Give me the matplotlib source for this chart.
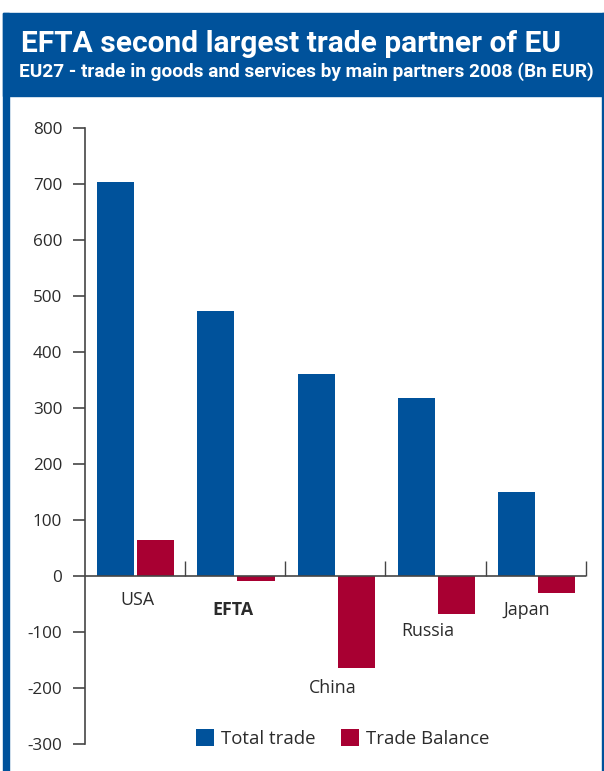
import matplotlib
matplotlib.use('Agg')
import matplotlib.pyplot as plt
import numpy as np
from matplotlib import font_manager
from matplotlib.patches import Rectangle

# ---------------- data ----------------
categories = ['USA', 'EFTA', 'China', 'Russia', 'Japan']
total_trade = [703, 473, 361, 318, 150]
trade_balance = [65, -9, -165, -68, -30]
series_names = ['Total trade', 'Trade Balance']
y_ticks = [-300, -200, -100, 0, 100, 200, 300, 400, 500, 600, 700, 800]
title = 'EFTA second largest trade partner of EU'
subtitle = 'EU27 - trade in goods and services by main partners 2008 (Bn EUR)'

# ---------------- style ----------------
BLUE = '#00529B'
RED = '#A80032'
AXC = '#454545'
TXT = '#2b2b2b'

FONT = 'Open Sans'
TFONT = 'Roboto'
plt.rcParams['font.family'] = [FONT, 'DejaVu Sans']

W, H = 604, 771
fig = plt.figure(figsize=(W / 100, H / 100), dpi=100)


def fx(px):
    return px / W


def fy(py):
    return 1 - py / H


def pt2px(pt):
    return pt * 100 / 72


# frame and header
fig.patches.append(Rectangle((fx(3), 0), fx(6), fy(12.7), transform=fig.transFigure,
                             color=BLUE, zorder=0))
fig.patches.append(Rectangle((fx(602.3), 0), fx(2), fy(12.7), transform=fig.transFigure,
                             color=BLUE, zorder=0))
fig.patches.append(Rectangle((fx(3), fy(95.5)), 1 - fx(3), fy(12.7) - fy(95.5),
                             transform=fig.transFigure, color=BLUE, zorder=0))

t1 = fig.text(fx(20.7), fy(52.3), title, color='white', fontweight='bold',
              fontsize=20, va='baseline', ha='left', family=[TFONT, 'DejaVu Sans'])
t2 = fig.text(fx(19.3), fy(76.7), subtitle, color='white', fontweight='bold',
              fontsize=12, va='baseline', ha='left', family=[TFONT, 'DejaVu Sans'])

fig.canvas.draw()
r = fig.canvas.get_renderer()
for t, target in ((t1, 537), (t2, 573)):
    w = t.get_window_extent(r).width
    t.set_fontsize(t.get_fontsize() * target / w)

# axes
ax = fig.add_axes([fx(84.5), fy(744), (586 - 84.5) / W, (744 - 128) / H])
ax.set_xlim(-0.5, 4.5)
ax.set_ylim(-300, 800)
x = np.arange(len(categories))
b1 = ax.bar(x - 0.19, total_trade, 0.37, color=BLUE, label=series_names[0], zorder=2)
b2 = ax.bar(x + 0.21, trade_balance, 0.37, color=RED, label=series_names[1], zorder=2)

for s in ('top', 'right', 'bottom'):
    ax.spines[s].set_visible(False)
ax.spines['left'].set_color(AXC)
ax.spines['left'].set_linewidth(1.2)
ax.set_xticks([])
ax.set_yticks(y_ticks)
ax.set_yticklabels([str(v) for v in y_ticks])
ax.tick_params(axis='y', direction='out', length=8.6, width=1.2, color=AXC,
               labelsize=12.3, labelcolor=TXT, pad=7.5)
ax.axhline(0, color=AXC, lw=1.2, zorder=3)
ax.vlines(x + 0.5, 0, 27, color=AXC, lw=1.0, clip_on=False, zorder=3)

label_pos = [(0.028, -52), (0.977, -70), (1.978, -209), (2.925, -107), (3.91, -70)]
for cat, (lx, ly) in zip(categories, label_pos):
    ax.text(lx, ly, cat, ha='center', va='baseline', color=TXT,
            fontsize=12.8, fontweight='bold' if cat == 'EFTA' else 'normal')

LFS = 13.4
leg = ax.legend(handles=[b1, b2], loc='center', ncol=2, frameon=False,
                bbox_to_anchor=(fx(342.5), fy(738.5)), bbox_transform=fig.transFigure,
                fontsize=LFS, handlelength=18 / pt2px(LFS), handleheight=19 / pt2px(LFS),
                handletextpad=7 / pt2px(LFS), columnspacing=26 / pt2px(LFS),
                borderpad=0, borderaxespad=0)
for tx in leg.get_texts():
    tx.set_color(TXT)

fig.savefig('out.png', dpi=100)
